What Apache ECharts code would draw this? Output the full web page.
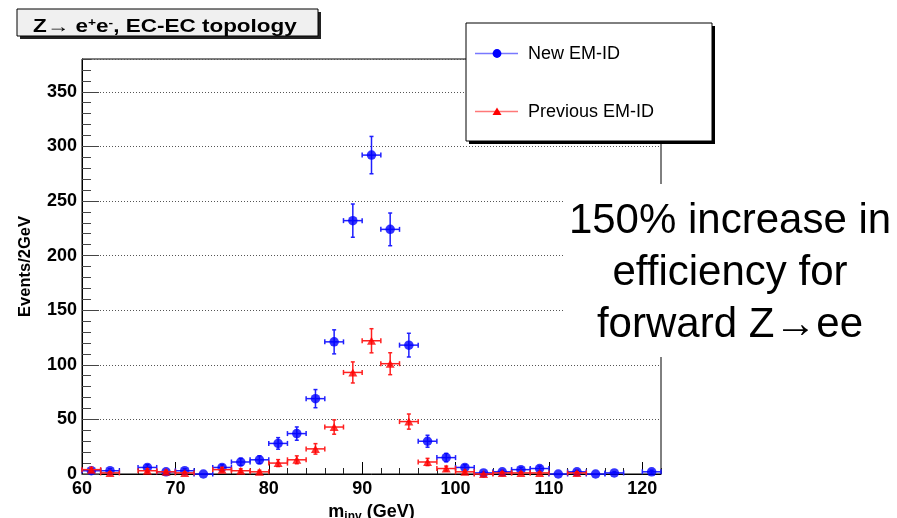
<!DOCTYPE html>
<html><head><meta charset="utf-8">
<script src="https://cdn.jsdelivr.net/npm/echarts@6/dist/echarts.min.js"></script>
<style>html,body{margin:0;padding:0;background:#fff}#c{width:897px;height:518px}</style>
</head><body><div id="c"></div>
<script>
// ---- data ----
const massBins = [61,63,65,67,69,71,73,75,77,79,81,83,85,87,89,91,93,95,97,99,101,103,105,107,109,111,113,115,117,119,121];
const newEmId  = [3,3,null,6,2,3,0,6,11,13,28,37,69,121,232,292,224,118,30,15,6,1,2,4,5,0,2,0,1,null,2];
const prevEmId = [4,1,null,3,2,1,null,4,3,2,10,13,23,43,93,122,101,48,11,5,2,0,1,1,1,null,1,null,null,null,null];
const xTickLabels = [60,70,80,90,100,110,120];
const yTickLabels = [0,50,100,150,200,250,300,350];
const binWidth = 2;
const xMax = 122, yMax = 380;
const seriesNames = ['New EM-ID','Previous EM-ID'];

const FONT = '"Liberation Sans", Arial, Helvetica, sans-serif';
const BLUE = '#0000ff', RED = '#ff0000';

function pairs(vals){ const out=[]; massBins.forEach((m,i)=>{ if(vals[i]!==null) out.push([m, vals[i]]); }); return out; }

function errRenderer(color){
  return function(params, api){
    const x = api.value(0), y = api.value(1), e = Math.sqrt(y);
    const c = api.coord([x, y]);
    const l = api.coord([x - binWidth/2, y]);
    const r = api.coord([x + binWidth/2, y]);
    const cap = 2.5;
    const segs = [
      [l[0], c[1], r[0], c[1]],
      [l[0], c[1]-cap, l[0], c[1]+cap],
      [r[0], c[1]-cap, r[0], c[1]+cap]
    ];
    if (e > 0) {
      const t = api.coord([x, y + e]), b = api.coord([x, Math.max(0, y - e)]);
      segs.push([c[0], t[1], c[0], b[1]]);
      segs.push([c[0]-2, t[1], c[0]+2, t[1]]);
      if (y - e > 0) segs.push([c[0]-2, b[1], c[0]+2, b[1]]);
    }
    return { type:'group', children: segs.map(s => ({
      type:'line', shape:{x1:s[0],y1:s[1],x2:s[2],y2:s[3]},
      style:{stroke:color, lineWidth:1.5}
    }))};
  };
}

const chart = echarts.init(document.getElementById('c'), null, {renderer:'canvas'});
const xStep = xTickLabels[1]-xTickLabels[0];
const yStep = yTickLabels[1]-yTickLabels[0];

const option = {
  animation:false,
  backgroundColor:'#fff',
  textStyle:{fontFamily:FONT},
  grid:{left:82, top:59, right:236, bottom:44, outerBoundsMode:'none', containLabel:false,
        show:true, borderColor:'#000', borderWidth:1, backgroundColor:'transparent'},
  xAxis:[
    { type:'value', min:xTickLabels[0], max:xMax, interval:binWidth, position:'bottom',
      axisLine:{show:true, lineStyle:{color:'#000', width:1}},
      axisTick:{show:true, inside:true, length:6, lineStyle:{color:'#222'}},
      axisLabel:{show:false}, splitLine:{show:false} },
    { type:'value', min:xTickLabels[0], max:xMax, interval:xStep, position:'bottom',
      axisLine:{show:false},
      axisTick:{show:true, inside:true, length:12, lineStyle:{color:'#000'}},
      axisLabel:{show:true, margin:6, showMaxLabel:false, fontFamily:FONT, fontWeight:'bold', fontSize:18, color:'#000',
        formatter: v => xTickLabels.indexOf(v) >= 0 ? String(v) : ''},
      splitLine:{show:false},
      name:'{m|m}{s|inv}{m| (GeV)}', nameLocation:'middle', nameGap:14,
      nameTextStyle:{ rich:{
        m:{fontFamily:FONT, fontWeight:'bold', fontSize:18, lineHeight:22, color:'#000'},
        s:{fontFamily:FONT, fontWeight:'bold', fontSize:12, lineHeight:12, verticalAlign:'bottom', color:'#000'}
      }} }
  ],
  yAxis:[
    { type:'value', min:0, max:yMax, interval:10, position:'left',
      axisLine:{show:true, lineStyle:{color:'#000', width:1}},
      axisTick:{show:true, inside:true, length:9, lineStyle:{color:'#444'}},
      axisLabel:{show:false}, splitLine:{show:false} },
    { type:'value', min:yTickLabels[0], max:yMax, interval:yStep, position:'left',
      axisLine:{show:false},
      axisTick:{show:true, inside:true, length:17, lineStyle:{color:'#444'}},
      axisLabel:{show:true, margin:5, showMaxLabel:false, fontFamily:FONT, fontWeight:'bold', fontSize:18, color:'#000',
        formatter: v => yTickLabels.indexOf(v) >= 0 ? String(v) : ''},
      splitLine:{show:true, lineStyle:{color:'#555', width:1, type:[1,2]}},
      name:'Events/2GeV', nameLocation:'middle', nameRotate:90, nameGap:48,
      nameTextStyle:{fontFamily:FONT, fontWeight:'bold', fontSize:16.5, color:'#000'} }
  ],
  series:[
    { name:seriesNames[0]+' err', type:'custom', xAxisIndex:0, yAxisIndex:0, data:pairs(newEmId),
      renderItem:errRenderer('#1f1fff'), clip:false, z:3, silent:true },
    { name:seriesNames[0], type:'scatter', xAxisIndex:0, yAxisIndex:0, data:pairs(newEmId),
      symbol:'circle', symbolSize:9.5, itemStyle:{color:BLUE}, clip:false, z:4 },
    { name:seriesNames[1]+' err', type:'custom', xAxisIndex:0, yAxisIndex:0, data:pairs(prevEmId),
      renderItem:errRenderer('#ff2020'), clip:false, z:5, silent:true },
    { name:seriesNames[1], type:'scatter', xAxisIndex:0, yAxisIndex:0, data:pairs(prevEmId),
      symbol:'triangle', symbolSize:[9,8], itemStyle:{color:RED}, clip:false, z:6 }
  ],
  graphic:[
    // title box
    { type:'rect', z:100, shape:{x:20, y:12, width:301, height:27}, style:{fill:'#222'} },
    { type:'rect', z:101, shape:{x:17, y:9, width:301, height:27}, style:{fill:'#f0f0f0', stroke:'#000', lineWidth:1} },
    { type:'text', z:102, x:33, y:27, scaleX:1.25, originX:0, originY:0, style:{
        text:'{b|Z\u2192 e}{p|+}{b|e}{p|-}{b|, EC-EC topology}', verticalAlign:'middle', align:'left',
        rich:{ b:{fontFamily:FONT, fontWeight:'bold', fontSize:18, lineHeight:20, fill:'#000'},
               p:{fontFamily:FONT, fontWeight:'bold', fontSize:11, lineHeight:11, verticalAlign:'top', fill:'#000'} } } },
    // legend box
    { type:'rect', z:100, shape:{x:469, y:26, width:246, height:118}, style:{fill:'#000'} },
    { type:'rect', z:101, shape:{x:466, y:23, width:246, height:118}, style:{fill:'#fff', stroke:'#000', lineWidth:1} },
    { type:'line', z:102, shape:{x1:475, y1:53.5, x2:518, y2:53.5}, style:{stroke:'#7878ff', lineWidth:1.5} },
    { type:'circle', z:103, shape:{cx:497, cy:53.5, r:4.4}, style:{fill:BLUE} },
    { type:'text', z:102, x:528, y:54, style:{text:seriesNames[0], font:'18px '+FONT, fill:'#000', verticalAlign:'middle'} },
    { type:'line', z:102, shape:{x1:475, y1:111.5, x2:518, y2:111.5}, style:{stroke:'#ff7878', lineWidth:1.5} },
    { type:'polygon', z:103, shape:{points:[[497,107.5],[501.5,115],[492.5,115]]}, style:{fill:RED} },
    { type:'text', z:102, x:528, y:112, style:{text:seriesNames[1], font:'18px '+FONT, fill:'#000', verticalAlign:'middle'} },
    // annotation
    { type:'text', z:110, x:730, y:184, style:{
        text:'150% increase in\nefficiency for\nforward Z\u2192ee', align:'center', verticalAlign:'top',
        font:'42px '+FONT, lineHeight:52, fill:'#000', backgroundColor:'#fff', padding:[11,4,6,4] } }
  ]
};
chart.setOption(option);
</script></body></html>
